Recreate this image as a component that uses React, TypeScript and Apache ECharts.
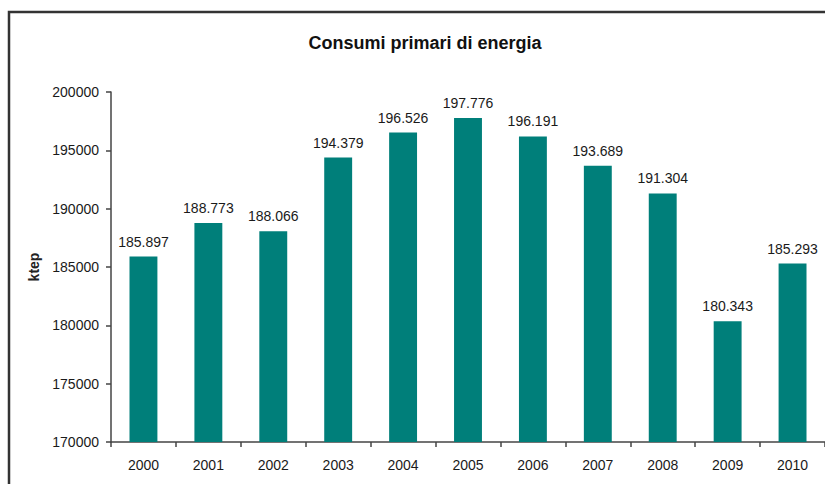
import React, { useEffect, useRef } from "react";
import * as echarts from "echarts";

const years = ["2000", "2001", "2002", "2003", "2004", "2005", "2006", "2007", "2008", "2009", "2010"];
const consumi = [185897, 188773, 188066, 194379, 196526, 197776, 196191, 193689, 191304, 180343, 185293];
const yTicks = [170000, 175000, 180000, 185000, 190000, 195000, 200000];

const FONT = "'Liberation Sans', Arial, sans-serif";

function fmt(v: number): string {
  return String(v).replace(/\B(?=(\d{3})+(?!\d))/g, ".");
}

export default function App() {
  const ref = useRef<HTMLDivElement>(null);
  useEffect(() => {
    if (!ref.current) return;
    const chart = echarts.init(ref.current, null, { renderer: "svg" });
    chart.setOption({
      animation: false,
      backgroundColor: "#ffffff",
      textStyle: { fontFamily: FONT },
      title: {
        text: "Consumi primari di energia",
        left: 420,
        top: 29,
        textAlign: "center",
        textStyle: { fontFamily: FONT, fontSize: 18, fontWeight: "bold", color: "#111" },
      },
      graphic: [
        {
          type: "rect",
          shape: { x: 9, y: 12, width: 900, height: 600 },
          style: { fill: "none", stroke: "#333", lineWidth: 2.5 },
          silent: true,
        },
      ],
      grid: { left: 111, top: 92, bottom: 42, width: 718, containLabel: false },
      xAxis: {
        type: "category",
        data: years,
        axisLine: { lineStyle: { color: "#444", width: 1.5 } },
        axisTick: { show: true, alignWithLabel: false, length: 5, lineStyle: { color: "#444", width: 1.5 } },
        axisLabel: { color: "#1a1a1a", fontSize: 14, fontFamily: FONT, margin: 16 },
      },
      yAxis: {
        type: "value",
        min: yTicks[0],
        max: yTicks[yTicks.length - 1],
        interval: 5000,
        name: "ktep",
        nameLocation: "middle",
        nameGap: 70,
        nameRotate: 90,
        nameTextStyle: { color: "#222", fontSize: 14, fontFamily: FONT, fontWeight: "bold" },
        axisLine: { show: true, lineStyle: { color: "#444", width: 1.5 } },
        axisTick: { show: true, length: 5, lineStyle: { color: "#444", width: 1.5 } },
        axisLabel: {
          color: "#1a1a1a",
          fontSize: 14,
          fontFamily: FONT,
          margin: 12,
          formatter: (v: number) => String(v),
        },
        splitLine: { show: false },
      },
      series: [
        {
          type: "bar",
          data: consumi,
          barWidth: "43%",
          itemStyle: { color: "#007F7A" },
          label: {
            show: true,
            position: "top",
            distance: 8,
            color: "#1a1a1a",
            fontSize: 14,
            fontFamily: FONT,
            formatter: (p: any) => fmt(p.value),
          },
        },
      ],
    });
    return () => chart.dispose();
  }, []);
  return <div ref={ref} style={{ position: "absolute", left: 0, top: 0, width: 825, height: 484 }} />;
}
